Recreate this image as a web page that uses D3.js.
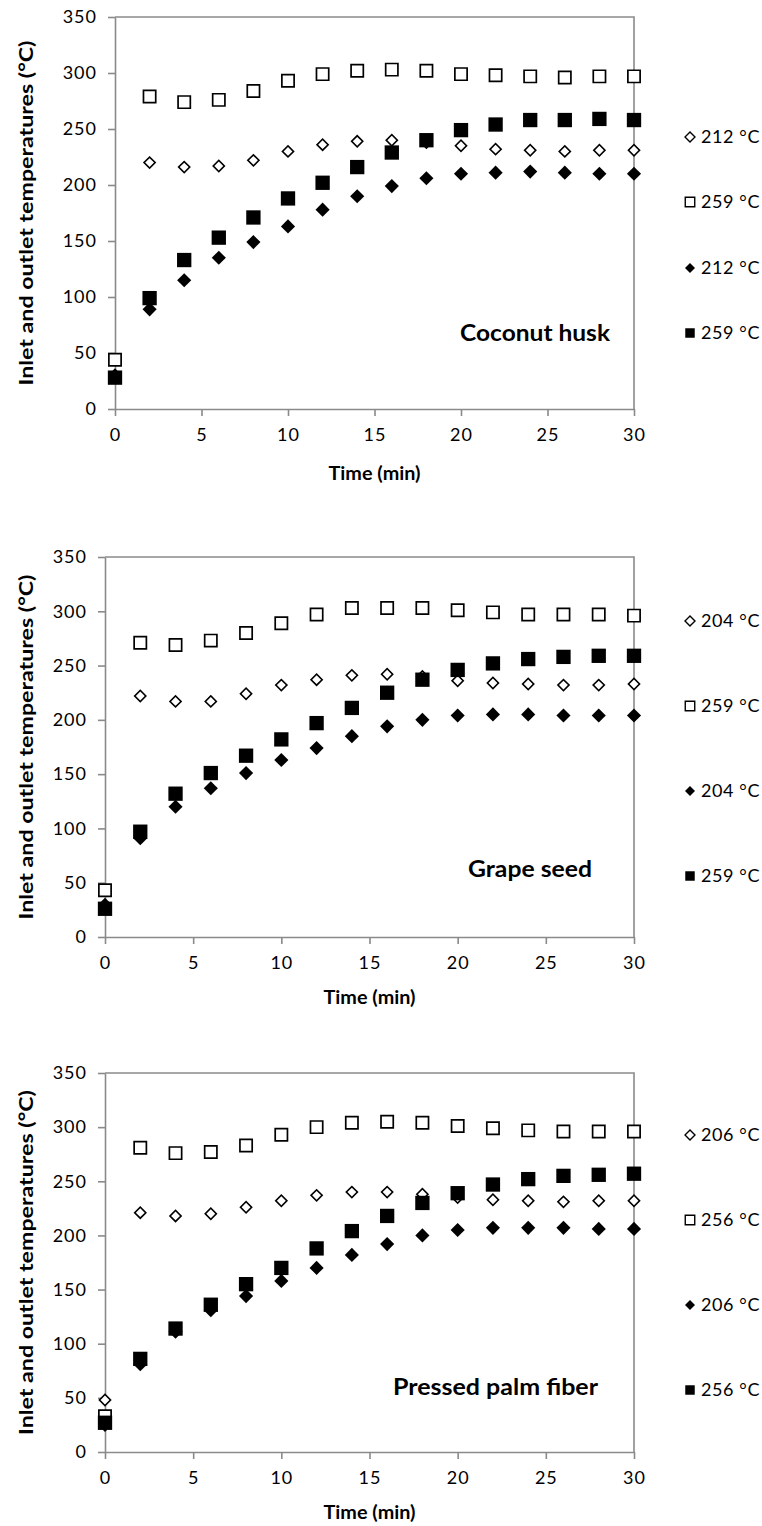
<!DOCTYPE html>
<html><head><meta charset="utf-8">
<script src="https://cdn.jsdelivr.net/npm/d3@7"></script>
<style>body{margin:0;background:#fff}svg{display:block}text{font-family:Lato,"Open Sans",sans-serif;fill:#000}</style>
</head><body><svg id="c" width="762" height="1526"></svg>
<script>
const times = [0,2,4,6,8,10,12,14,16,18,20,22,24,26,28,30];
const xTicks = [0,5,10,15,20,25,30];
const yTicks = [0,50,100,150,200,250,300,350];

const panelNames = ["Coconut husk","Grape seed","Pressed palm fiber"];
const legendTemps = [["212 °C","259 °C","212 °C","259 °C"],["204 °C","259 °C","204 °C","259 °C"],["206 °C","256 °C","206 °C","256 °C"]];

const coconutOpenDiamond = [30,220,216,217,222,230,236,239,240,238,235,232,231,230,231,231];
const coconutOpenSquare  = [44,279,274,276,284,293,299,302,303,302,299,298,297,296,297,297];
const coconutFillDiamond = [30,89,115,135,149,163,178,190,199,206,210,211,212,211,210,210];
const coconutFillSquare  = [28,99,133,153,171,188,202,216,229,240,249,254,258,258,259,258];

const grapeOpenDiamond = [30,222,217,217,224,232,237,241,242,240,236,234,233,232,232,233];
const grapeOpenSquare  = [43,271,269,273,280,289,297,303,303,303,301,299,297,297,297,296];
const grapeFillDiamond = [29,91,120,137,151,163,174,185,194,200,204,205,205,204,204,204];
const grapeFillSquare  = [26,97,132,151,167,182,197,211,225,237,246,252,256,258,259,259];

const palmOpenDiamond = [48,221,218,220,226,232,237,240,240,238,235,233,232,231,232,232];
const palmOpenSquare  = [33,281,276,277,283,293,300,304,305,304,301,299,297,296,296,296];
const palmFillDiamond = [25,81,111,131,144,158,170,182,192,200,205,207,207,207,206,206];
const palmFillSquare  = [27,86,114,136,155,170,188,204,218,230,239,247,252,255,256,257];

const panelSeries = [
  [coconutOpenDiamond,coconutOpenSquare,coconutFillDiamond,coconutFillSquare],
  [grapeOpenDiamond,grapeOpenSquare,grapeFillDiamond,grapeFillSquare],
  [palmOpenDiamond,palmOpenSquare,palmFillDiamond,palmFillSquare]
];

// layout
const layouts = [
  {l:115,r:634,t:17,b:409, legX:690, legY:[137,202,268,333], title:[610,333,150], ytx:33, xty:71},
  {l:105,r:634,t:557,b:937, legX:690, legY:[621,706,791,876], title:[592,869,124], ytx:33, xty:67},
  {l:105,r:634,t:1073,b:1452, legX:690, legY:[1135,1220,1305,1390], title:[598,1387,205], ytx:33, xty:67}
];
const markerStyles = [
  {shape:"diamond", fill:"#fff", stroke:"#000", sw:1.6, area:62},
  {shape:"square", fill:"#fff", stroke:"#000", sw:1.7, area:150},
  {shape:"diamond", fill:"#000", stroke:"none", sw:0, area:100},
  {shape:"square", fill:"#000", stroke:"none", sw:0, area:205}
];
const axisColor = "#8a8a8a";
const svg = d3.select("#c");

function drawMarker(g, st, x, y){
  const p = d3.symbol().type(d3.symbolSquare).size(st.area)();
  g.append("path").attr("d",p)
    .attr("transform",`translate(${x},${y})` + (st.shape==="diamond"?" rotate(45)":""))
    .attr("fill",st.fill).attr("stroke",st.stroke).attr("stroke-width",st.sw);
}

layouts.forEach((L,pi)=>{
  const x = d3.scaleLinear().domain([0,30]).range([L.l,L.r]);
  const y = d3.scaleLinear().domain([0,350]).range([L.b,L.t]);
  const g = svg.append("g");
  g.append("path").attr("d",`M${L.l},${L.t}H${L.r}V${L.b}`).attr("fill","none").attr("stroke",axisColor).attr("stroke-width",1.6);
  const ya = g.append("g").attr("transform",`translate(${L.l},0)`)
    .call(d3.axisLeft(y).tickValues(yTicks).tickSize(7).tickPadding(11).tickSizeOuter(0));
  const xa = g.append("g").attr("transform",`translate(0,${L.b})`)
    .call(d3.axisBottom(x).tickValues(xTicks).tickSize(7).tickPadding(12).tickSizeOuter(0));
  [ya,xa].forEach(a=>{
    a.selectAll("path,line").attr("stroke",axisColor).attr("stroke-width",1.6);
    a.selectAll("text").attr("font-size",18).attr("fill","#000").attr("font-family","Lato").attr("letter-spacing","1px");
  });
  g.append("text").attr("x",(L.l+L.r)/2).attr("y",L.b+L.xty).attr("text-anchor","middle")
    .attr("font-size",18).attr("font-weight","bold")
    .attr("textLength",92).attr("lengthAdjust","spacingAndGlyphs").text("Time (min)");
  g.append("text").attr("transform",`translate(${L.ytx},${(L.t+L.b)/2}) rotate(-90)`)
    .attr("text-anchor","middle").attr("font-size",18).attr("font-weight","bold")
    .attr("textLength",345).attr("lengthAdjust","spacingAndGlyphs")
    .text("Inlet and outlet temperatures (°C)");
  g.append("text").attr("x",L.title[0]-L.title[2]).attr("y",L.title[1]).attr("dy","0.35em")
    .attr("font-size",22).attr("font-weight","bold")
    .attr("textLength",L.title[2]).attr("lengthAdjust","spacingAndGlyphs").text(panelNames[pi]);
  panelSeries[pi].forEach((vals,si)=>{
    const sg = g.append("g");
    vals.forEach((v,i)=> drawMarker(sg, markerStyles[si], x(times[i]), y(v)));
  });
  legendTemps[pi].forEach((lab,si)=>{
    const lg = g.append("g");
    const st = markerStyles[si];
    const s = Object.assign({}, st, {area: st.shape==="diamond"? 50 : 90, sw: st.sw?1.4:0});
    drawMarker(lg, s, L.legX, L.legY[si]);
    lg.append("text").attr("x",L.legX+11).attr("y",L.legY[si]).attr("dy","0.35em")
      .attr("font-size",18).attr("letter-spacing","0.6px").text(lab);
  });
});
</script></body></html>
